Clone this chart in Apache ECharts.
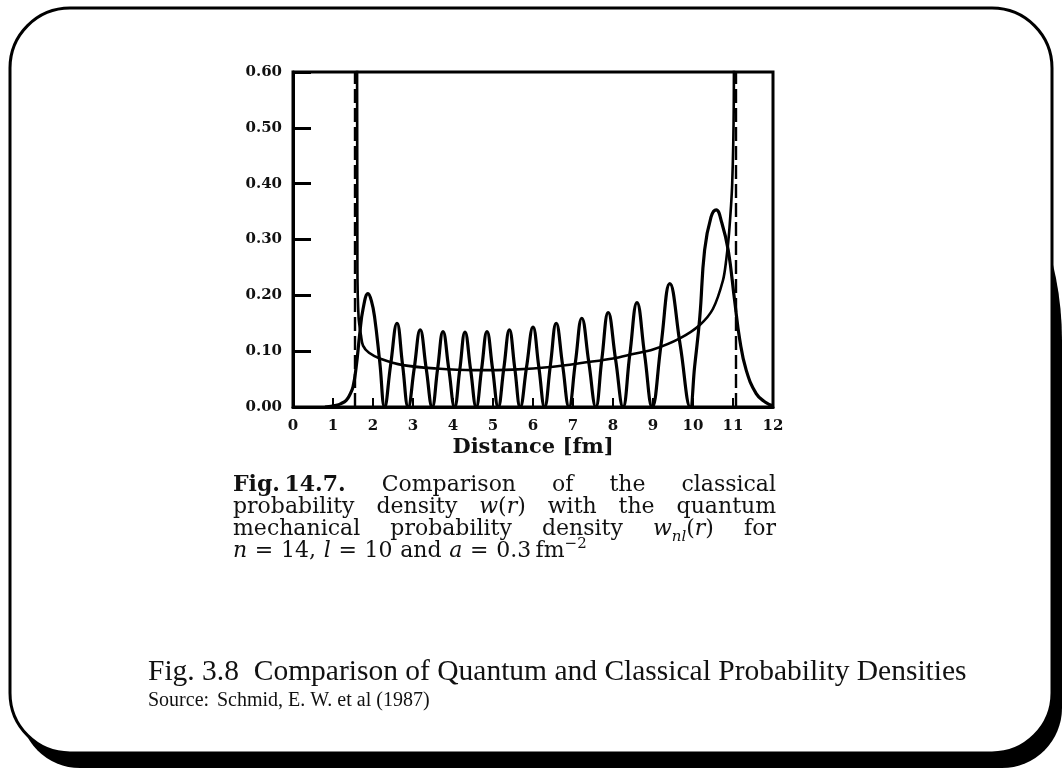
<!DOCTYPE html>
<html>
<head>
<meta charset="utf-8">
<title>Quantum and classical probability densities</title>
<script src="https://cdn.jsdelivr.net/npm/echarts@6/dist/echarts.min.js"></script>
<style>
html, body { margin: 0; padding: 0; background: #fff; }
#chart { width: 1063px; height: 772px; }
</style>
</head>
<body>
<div id="chart"></div>
<script>
// quantum mechanical density w_nl(r) (r in fm)
var quantumR = [0.8, 1.08, 1.2, 1.33, 1.42, 1.5, 1.58, 1.67, 1.75, 1.875, 1.96, 2.04, 2.17, 2.29,
  2.44, 2.6, 2.74, 2.88, 3.03, 3.18, 3.33, 3.48, 3.615, 3.75, 3.895, 4.04,
  4.17, 4.3, 4.44, 4.58, 4.715, 4.85, 4.99, 5.13, 5.27, 5.41, 5.545, 5.68,
  5.84, 6.0, 6.145, 6.29, 6.435, 6.58, 6.74, 6.9, 7.06, 7.22, 7.395, 7.57,
  7.72, 7.88, 8.065, 8.25, 8.42, 8.6, 8.79, 8.98, 9.2, 9.42, 9.68, 9.93,
  10.04, 10.17, 10.29, 10.45, 10.58, 10.72, 10.88, 11.04, 11.17, 11.33, 11.58, 11.8, 12.0];
var quantumW = [0, 0.003, 0.006, 0.012, 0.022, 0.036, 0.072, 0.132, 0.175, 0.203, 0.19, 0.161, 0.08, 0,
  0.075, 0.150, 0.075, 0, 0.069, 0.138, 0.069, 0, 0.068, 0.135, 0.068, 0,
  0.067, 0.134, 0.067, 0, 0.068, 0.135, 0.068, 0, 0.069, 0.138, 0.069, 0,
  0.072, 0.143, 0.072, 0, 0.075, 0.150, 0.075, 0, 0.080, 0.159, 0.080, 0,
  0.085, 0.169, 0.085, 0, 0.094, 0.187, 0.094, 0, 0.111, 0.221, 0.111, 0,
  0.072, 0.161, 0.281, 0.340, 0.353, 0.330, 0.281, 0.191, 0.120, 0.066, 0.024, 0.009, 0.002];

// classical density w(r), runs off to infinity at the turning points
var classicalR = [1.60, 1.61, 1.64, 1.70, 1.75, 1.9, 2.17, 2.75, 3.58, 4.5, 5.5, 6.5, 7.33, 8.0,
  8.5, 9.0, 9.67, 10.17, 10.5, 10.75, 10.83, 10.9, 10.98, 11.02, 11.04];
var classicalW = [1.00, 0.25, 0.16, 0.128, 0.110, 0.097, 0.087, 0.075, 0.069, 0.066, 0.067, 0.072, 0.080, 0.087,
  0.095, 0.103, 0.123, 0.147, 0.176, 0.227, 0.263, 0.31, 0.40, 0.55, 1.00];

// classical turning points (dashed verticals)
var turningPoints = [1.54, 11.08];

function pairs(xs, ys) {
  var out = [];
  for (var i = 0; i < xs.length; i++) out.push([xs[i], ys[i]]);
  return out;
}

var SERIF = '"DejaVu Serif", serif';
var TIMES = '"Liberation Serif", "Times New Roman", serif';

// book caption, typeset word by word so lines can be justified
var frag = {
  r:   { style: 'normal', weight: 'normal', size: 22, dy: 0 },
  b:   { style: 'normal', weight: 'bold',   size: 22, dy: 0 },
  i:   { style: 'italic', weight: 'normal', size: 22, dy: 0 },
  sub: { style: 'italic', weight: 'normal', size: 15, dy: 5 },
  sup: { style: 'normal', weight: 'normal', size: 15, dy: -10 }
};
var captionLines = [
  { justify: true, baseline: 496, words: [[['Fig.\u200914.7.', 'b']], [['Comparison', 'r']], [['of', 'r']], [['the', 'r']], [['classical', 'r']]] },
  { justify: true, baseline: 518, words: [[['probability', 'r']], [['density', 'r']], [['w', 'i'], ['(', 'r'], ['r', 'i'], [')', 'r']], [['with', 'r']], [['the', 'r']], [['quantum', 'r']]] },
  { justify: true, baseline: 540, words: [[['mechanical', 'r']], [['probability', 'r']], [['density', 'r']], [['w', 'i'], ['nl', 'sub'], ['(', 'r'], ['r', 'i'], [')', 'r']], [['for', 'r']]] },
  { justify: false, baseline: 562, words: [[['n', 'i']], [['=', 'r']], [['14,', 'r']], [['l', 'i']], [['=', 'r']], [['10', 'r']], [['and', 'r']], [['a', 'i']], [['=', 'r']], [['0.3\u2009fm', 'r'], ['\u22122', 'sup']]] }
];
var captionLeft = 233, captionRight = 776;

var ctx = document.createElement('canvas').getContext('2d');
function fontOf(f) { return f.style + ' ' + f.weight + ' ' + f.size + 'px ' + SERIF; }
function widthOf(text, f) { ctx.font = fontOf(f); return ctx.measureText(text).width; }

function captionGraphics() {
  var els = [];
  captionLines.forEach(function (line) {
    var widths = line.words.map(function (w) {
      return w.reduce(function (s, p) { return s + widthOf(p[0], frag[p[1]]); }, 0);
    });
    var total = widths.reduce(function (a, b) { return a + b; }, 0);
    var gap = line.justify ? (captionRight - captionLeft - total) / (line.words.length - 1)
                           : widthOf(' ', frag.r) * 1.1;
    var x = captionLeft;
    line.words.forEach(function (w, k) {
      var cx = x;
      w.forEach(function (p) {
        var f = frag[p[1]];
        els.push({
          type: 'text', x: cx, y: line.baseline + f.dy, silent: true,
          style: { text: p[0], font: fontOf(f), fill: '#111', textAlign: 'left', textVerticalAlign: 'bottom' }
        });
        cx += widthOf(p[0], f);
      });
      x += widths[k] + gap;
    });
  });
  return els;
}

var chart = echarts.init(document.getElementById('chart'));

var option = {
  animation: false,
  backgroundColor: '#fff',
  grid: { left: 293, right: 290, top: 72, bottom: 365, show: true, borderColor: '#000', borderWidth: 3 },
  xAxis: {
    type: 'value', min: 0, max: 12, interval: 1,
    name: 'Distance [fm]', nameLocation: 'middle', nameGap: 30,
    nameTextStyle: { fontFamily: SERIF, fontSize: 21, fontWeight: 'bold', color: '#111' },
    axisLine: { show: true, onZero: false, lineStyle: { color: '#000', width: 3 } },
    axisTick: { show: true, inside: true, length: 9, lineStyle: { color: '#000', width: 2 } },
    axisLabel: { margin: 12, fontFamily: SERIF, fontSize: 15, fontWeight: 'bold', color: '#111' },
    splitLine: { show: false }
  },
  yAxis: {
    type: 'value', min: 0, max: 0.6, interval: 0.1,
    axisLine: { show: true, lineStyle: { color: '#000', width: 3 } },
    axisTick: { show: true, inside: true, length: 18, lineStyle: { color: '#000', width: 3 } },
    axisLabel: {
      margin: 11, fontFamily: SERIF, fontSize: 15, fontWeight: 'bold', color: '#111',
      formatter: function (v) { return v.toFixed(2); }
    },
    splitLine: { show: false }
  },
  series: [
    {
      name: 'w_nl(r)', type: 'line', data: pairs(quantumR, quantumW),
      smooth: 0.45, symbol: 'none', clip: true,
      lineStyle: { color: '#000', width: 3.2 }
    },
    {
      name: 'w(r)', type: 'line', data: pairs(classicalR, classicalW),
      smooth: 0.3, symbol: 'none', clip: true,
      lineStyle: { color: '#000', width: 2.6 },
      markLine: {
        silent: true, symbol: ['none', 'none'], label: { show: false },
        lineStyle: { color: '#000', width: 2.4, type: [14, 5] },
        data: turningPoints.map(function (x) { return { xAxis: x }; })
      }
    }
  ],
  graphic: [
    // rounded frame; its heavy shadow only shows along the lower right
    { type: 'rect', z: -10, silent: true, shape: { x: 20, y: 20, width: 1042, height: 748, r: [60, 320, 60, 60] }, style: { fill: '#000' } },
    { type: 'rect', z: -9, silent: true, shape: { x: 10, y: 8, width: 1042, height: 745, r: 60 }, style: { fill: '#fff', stroke: '#000', lineWidth: 3 } },
    {
      type: 'text', x: 148, y: 687, silent: true,
      style: { text: 'Fig. 3.8  Comparison of Quantum and Classical Probability Densities', font: '29.5px ' + TIMES, fill: '#111', textAlign: 'left', textVerticalAlign: 'bottom' }
    },
    {
      type: 'text', x: 148, y: 711, silent: true,
      style: { text: 'Source:', font: '20px ' + TIMES, fill: '#111', textAlign: 'left', textVerticalAlign: 'bottom' }
    },
    {
      type: 'text', x: 217, y: 711, silent: true,
      style: { text: 'Schmid, E. W. et al (1987)', font: '20px ' + TIMES, fill: '#111', textAlign: 'left', textVerticalAlign: 'bottom' }
    }
  ].concat(captionGraphics())
};

chart.setOption(option);
</script>
</body>
</html>
